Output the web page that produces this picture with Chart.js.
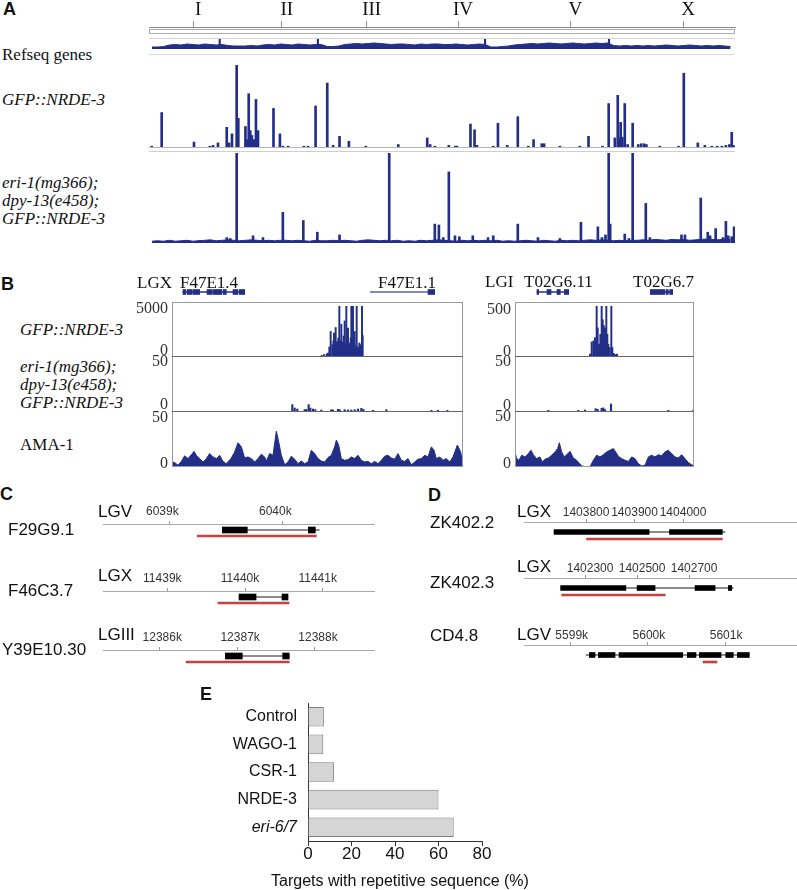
<!DOCTYPE html>
<html>
<head>
<meta charset="utf-8">
<script src="https://cdn.jsdelivr.net/npm/chart.js@4.4.1/dist/chart.umd.min.js"></script>
<style>
html, body { margin: 0; padding: 0; background: #fff; }
#fig { position: relative; width: 797px; height: 890px; overflow: hidden; }
#fig canvas { position: absolute; }
.t { position: absolute; white-space: nowrap; color: #111; }
.ln { position: absolute; box-sizing: border-box; }
</style>
</head>
<body>
<div id="fig"></div>
<script>
// ---- A: genome-wide view (positions in Mb along the concatenated genome)
const chromNames = ['I', 'II', 'III', 'IV', 'V', 'X'];
const chromLengthsMb = [15.07, 15.28, 13.78, 17.49, 20.92, 17.72];

// gene density per 1 Mb bin
const refseqDensity = [
  2, 2, 2.5, 4, 4.5, 4, 5, 4.5, 4, 5, 4.5, 4, 4.5, 3.5, 3,
  3, 3, 3.5, 3, 4, 4.5, 4, 5, 4.5, 4, 5, 4.5, 4, 4.5, 4.5,
  2.5, 2.5, 3, 4.5, 5, 5.5, 5, 5.5, 6, 5.5, 5, 4.5, 5, 5,
  4.5, 4, 5, 4.5, 5, 5, 4.5, 4.5, 5, 4.5, 4, 4.5, 5, 4.5, 2, 2, 2.5, 3,
  4, 4.5, 5, 5.5, 5, 5.5, 6, 5.5, 5, 5.5, 6, 5.5, 5, 5.5, 6, 5.5, 6, 3.5, 3, 3.5, 3,
  3.5, 3, 3.5, 3, 3.5, 4, 3.5, 3, 3.5, 4, 3.5, 3, 3.5, 3, 3.5, 3, 2.5
];
const refseqPeaks = [[12.1, 10], [28.9, 10], [57.5, 10], [78.7, 10]];

// [Mb, relative signal %]
const nrde3Peaks = [
  [0.46, 1], [2.17, 42], [7.7, 6], [10.4, 1], [10.95, 2], [11.8, 5], [13.3, 24], [13.7, 5], [14.2, 16],
  [15.0, 100], [15.28, 35], [16.5, 25], [16.8, 9], [17.06, 65], [17.33, 20], [17.6, 14], [17.96, 9],
  [18.3, 58], [18.65, 20], [21.3, 47], [22.4, 16], [22.9, 1], [23.8, 1], [26.5, 1], [27.2, 1], [28.5, 50],
  [30.5, 78], [31.5, 2], [32.6, 13], [34.2, 7], [37.1, 1], [42.65, 3], [47.6, 11], [48.1, 3], [48.9, 1],
  [51.3, 2], [52.4, 1], [52.7, 1], [55.0, 28], [55.7, 21], [56.1, 2], [58.9, 1], [59.7, 29], [61.3, 2],
  [63.1, 37], [64.9, 1], [65.8, 9], [67.2, 4], [67.6, 4], [70.3, 1], [73.7, 1], [75.2, 13], [77.6, 1],
  [78.65, 53], [79.7, 11], [80.2, 63], [80.5, 11], [80.7, 30], [80.98, 12], [81.4, 53], [81.9, 3],
  [82.75, 29], [83.7, 3], [84.2, 4], [84.7, 4], [85.1, 3], [87.4, 1], [90.6, 1], [91.5, 90], [93.9, 5],
  [95.1, 2], [96.3, 1], [97.2, 1], [98.0, 1], [98.7, 2], [99.3, 3], [99.7, 18], [100.0, 2]
];
const eriBackground = [
  2, 2.5, 2, 3, 2, 2.5, 3, 2, 2.5, 3, 3.5, 2.5, 3, 3.5, 3,
  2.5, 3, 3.5, 3, 2.5, 3, 2.5, 3, 3, 2.5, 3, 2.5, 2, 3, 2.5,
  2.5, 3, 2.5, 3, 2.5, 2, 3, 3.5, 3, 2.5, 3, 2.5, 3, 2,
  2.5, 2, 3, 2.5, 3, 3.5, 3, 2.5, 2, 3, 2.5, 3, 2.5, 3, 2.5, 3, 2, 2.5,
  2, 2.5, 3, 2.5, 2, 3, 2.5, 2, 3, 2.5, 3, 2.5, 3, 3.5, 3, 3.5, 3, 2.5, 3, 2.5, 3,
  3, 3.5, 3, 4, 3.5, 3, 4, 3.5, 4, 3, 3.5, 4, 4.5, 4, 3.5, 4.5, 4
];
const eriPeaks = [
  [8.7, 3], [13.3, 6], [13.9, 5], [15.0, 100], [17.8, 8], [19.5, 6], [22.9, 34], [26.4, 25], [28.8, 12],
  [32.6, 9], [41.1, 100], [48.9, 21], [49.6, 20], [50.35, 6], [51.3, 79], [52.35, 8], [53.1, 7], [55.4, 8],
  [58.0, 6], [58.9, 8], [63.1, 21], [66.55, 6], [70.3, 5], [73.9, 23], [76.8, 18], [77.5, 6], [78.1, 9],
  [78.65, 100], [78.9, 21], [81.4, 10], [82.1, 5], [82.75, 100], [85.0, 44], [85.7, 6], [91.1, 9], [91.7, 9],
  [94.4, 50], [95.6, 12], [96.0, 8], [96.95, 16], [98.2, 6], [98.7, 24], [99.1, 8], [99.7, 7], [100.1, 18]
];

// ---- B: browser windows (position = offset inside window, reads)
const f47Gfp = [
  [449, 60], [456, 130], [464, 200], [468, 300], [472, 900], [476, 2450], [481, 1130], [484, 1500],
  [486, 2290], [489, 1000], [491, 2850], [494, 1300], [496, 1460], [499, 1800], [502, 5000], [505, 1500],
  [508, 3180], [511, 1400], [513, 1130], [515, 2000], [518, 3510], [521, 1200], [523, 5000], [526, 1400],
  [528, 2780], [531, 1300], [533, 1130], [536, 1800], [538, 5000], [541, 1600], [543, 5000], [546, 1300],
  [548, 2450], [551, 1000], [554, 5000], [557, 900], [560, 800], [562, 1300], [565, 1130], [568, 900],
  [570, 5000], [572, 2050]
];
const f47Eri = [
  [361, 5.8], [368, 2.7], [376, 1.8], [398, 1.2], [403, 1.5], [410, 5.8], [415, 2.7], [423, 1.8], [430, 1.2],
  [448, 0.9], [478, 1.2], [483, 0.9], [498, 1.5], [503, 1.2], [518, 1.2], [528, 0.9], [538, 0.9], [548, 1.2],
  [558, 1.8], [568, 2.4], [574, 1.5], [603, 0.6], [643, 1.2], [778, 0.6], [798, 0.6], [826, 0.6]
];
const f47Ama1 = [
  [0, 4.5], [8, 4], [18, 1.5], [28, 5], [38, 10], [48, 7.5], [58, 11], [66, 14], [73, 10.5], [83, 7.5],
  [93, 4.5], [103, 7.5], [113, 12], [123, 9], [133, 7.5], [143, 10.5], [153, 5], [163, 3], [178, 8],
  [188, 13.5], [198, 21.7], [208, 18], [218, 8], [228, 9], [238, 7.5], [248, 4.5], [258, 7.5], [268, 11.4],
  [278, 9], [283, 5.4], [293, 12], [303, 10.5], [313, 32], [320, 22.6], [328, 10.5], [338, 2], [348, 4.5],
  [358, 9.6], [368, 7], [378, 3], [388, 5.4], [398, 3], [408, 4.5], [418, 15], [428, 12], [438, 7.5],
  [448, 5.4], [458, 4.5], [468, 8.4], [478, 10.5], [488, 18], [493, 24], [500, 19.6], [508, 7.5], [518, 6],
  [528, 6.6], [538, 9], [548, 7.5], [558, 10.5], [568, 6], [578, 4.5], [588, 5], [598, 3], [608, 5],
  [618, 3], [628, 6], [638, 9.6], [648, 10.5], [658, 8], [668, 7], [678, 12], [688, 6], [698, 5],
  [708, 7.5], [718, 2], [728, 4.5], [738, 7], [748, 7.5], [758, 10.5], [768, 9], [778, 18], [786, 15],
  [793, 7.5], [803, 9], [813, 6], [823, 7.5], [833, 4.5], [843, 9], [856, 19.6], [866, 13.5], [873, 1.5]
];
const t02Gfp = [
  [225, 20], [230, 140], [235, 150], [240, 183], [245, 500], [248, 281], [252, 118], [256, 216], [260, 500],
  [263, 363], [266, 307], [270, 281], [274, 500], [277, 216], [280, 118], [284, 85], [289, 500], [292, 85],
  [296, 26], [300, 13], [306, 20]
];
const t02Eri = [
  [100, 0.6], [190, 0.6], [210, 0.9], [242, 2.1], [248, 1.5], [260, 2.5], [265, 2.8], [270, 1.2], [288, 6.4],
  [460, 0.6], [535, 0.9]
];
const t02Ama1 = [
  [0, 13.5], [5, 7.5], [12, 6], [20, 10.5], [30, 9], [40, 12], [48, 15], [55, 11], [65, 7.5], [75, 9],
  [82, 4.5], [90, 7], [100, 8], [110, 10.5], [120, 13.5], [128, 16.5], [133, 21.7], [140, 13.5], [148, 9],
  [155, 11], [165, 14], [175, 8], [185, 6], [192, 3.6], [200, 1], [210, 0.3], [225, 0.3], [235, 6],
  [245, 10.5], [255, 9], [265, 11], [275, 13.5], [285, 15], [295, 16.5], [302, 13.5], [310, 9.6], [320, 7.5],
  [330, 6], [340, 5], [350, 9], [360, 7.5], [370, 3], [380, 1], [390, 1.5], [400, 9], [410, 10.5], [420, 9],
  [430, 11], [440, 10], [450, 13.5], [460, 15], [470, 12], [480, 9], [490, 8], [500, 11], [510, 7.5],
  [520, 4], [530, 2], [537, 1]
];
const f47e1_4Span = [[33, 218]];
const f47e1_4Exons = [[33, 41], [45, 59], [62, 83], [105, 119], [122, 149], [153, 163], [183, 197], [201, 218]];
const f47e1_1Span = [[595, 788]];
const f47e1_1Exons = [[768, 788]];
const t02g6_11Span = [[66, 161]];
const t02g6_11Exons = [[66, 71], [96, 108], [126, 136], [148, 161]];
const t02g6_7Span = [[406, 473]];
const t02g6_7Exons = [[406, 449], [453, 460], [464, 473]];

// ---- C: gene models, kb
const f29g9Window = [6038.413, 6040.820];
const f29g9Ticks = [6039, 6040];
const f29g9Exons = [[6039.469, 6039.690], [6040.230, 6040.292]];
const f29g9Span = [[6039.469, 6040.327]];
const f29g9Repeat = [[6039.248, 6040.301]];

const f46c3Window = [11438.172, 11441.673];
const f46c3Ticks = [11439, 11440, 11441];
const f46c3Exons = [[11439.923, 11440.142], [11440.476, 11440.553]];
const f46c3Span = [[11439.923, 11440.553]];
const f46c3Repeat = [[11439.652, 11440.566]];

const y39e10Window = [12385.277, 12388.771];
const y39e10Ticks = [12386, 12387, 12388];
const y39e10Exons = [[12386.848, 12387.066], [12387.585, 12387.670]];
const y39e10Span = [[12386.848, 12387.670]];
const y39e10Repeat = [[12386.345, 12387.670]];

// ---- D: gene models (bp / kb)
const zk402_2Window = [1403672, 1404235];
const zk402_2Ticks = [1403800, 1403900, 1404000];
const zk402_2Exons = [[1403734, 1403930], [1403972, 1404081]];
const zk402_2Span = [[1403734, 1404087]];
const zk402_2Repeat = [[1403801, 1404081]];

const zk402_3Window = [1402065, 1403115];
const zk402_3Ticks = [1402300, 1402500, 1402700];
const zk402_3Exons = [[1402206, 1402457], [1402500, 1402569], [1402723, 1402800], [1402851, 1402864]];
const zk402_3Span = [[1402206, 1402870]];
const zk402_3Repeat = [[1402210, 1402608]];

const cd4_8Window = [5598.395, 5601.931];
const cd4_8Ticks = [5599, 5600, 5601];
const cd4_8Exons = [[5599.241, 5599.315], [5599.358, 5599.574], [5599.626, 5600.451], [5600.510, 5600.623],
  [5600.666, 5600.947], [5601.008, 5601.106], [5601.158, 5601.313]];
const cd4_8Span = [[5599.198, 5601.313]];
const cd4_8Repeat = [[5600.713, 5600.894]];

// ---- E
const eCategories = ['Control', 'WAGO-1', 'CSR-1', 'NRDE-3', 'eri-6/7'];
const ePercent = [7.3, 7, 12, 60, 67];

const SERIF = '"Liberation Serif", "Times New Roman", serif';
const SANS = '"Liberation Sans", Arial, sans-serif';
const NAVY = '#232f87';
const RED = '#c8403f';

const fig = document.getElementById('fig');

function canvasAt(left, top, width, height) {
  const c = document.createElement('canvas');
  c.width = width;
  c.height = height;
  Object.assign(c.style, { left: left + 'px', top: top + 'px', width: width + 'px', height: height + 'px' });
  fig.appendChild(c);
  return c;
}

function rule(x, y, w, h, css) {
  const d = document.createElement('div');
  d.className = 'ln';
  Object.assign(d.style, { left: x + 'px', top: y + 'px', width: w + 'px', height: h + 'px' }, css);
  fig.appendChild(d);
}

function text(str, x, y, size, family, o = {}) {
  const d = document.createElement('div');
  d.className = 't';
  d.textContent = str;
  const lh = Math.round(size * 1.2);
  Object.assign(d.style, {
    left: x + 'px', top: (y - lh / 2) + 'px', fontSize: size + 'px', lineHeight: lh + 'px',
    fontFamily: family, fontStyle: o.italic ? 'italic' : 'normal', fontWeight: o.bold ? 'bold' : 'normal',
    color: o.color || '#111'
  });
  if (o.right) d.style.transform = 'translateX(-100%)';
  fig.appendChild(d);
}

const baseOptions = () => ({
  responsive: false,
  animation: false,
  events: [],
  devicePixelRatio: 1,
  layout: { padding: 0 },
  plugins: { legend: { display: false }, tooltip: { enabled: false } }
});

function trackChart(left, top, width, height, xMax, yMax, datasets) {
  return new Chart(canvasAt(left, top, width, height), {
    type: 'bar',
    data: { datasets },
    options: Object.assign(baseOptions(), {
      scales: {
        x: { type: 'linear', display: false, min: 0, max: xMax, offset: false },
        y: { type: 'linear', display: false, min: 0, max: yMax }
      }
    })
  });
}

const spikes = (pairs, thick) => ({
  type: 'bar', data: pairs.map(([x, y]) => ({ x, y })),
  backgroundColor: NAVY, barThickness: thick, grouped: false
});
const area = (pairs) => ({
  type: 'line', data: pairs.map(([x, y]) => ({ x, y })),
  borderColor: NAVY, backgroundColor: NAVY, borderWidth: 1, pointRadius: 0, fill: 'origin', tension: 0
});
const bins = (values) => values.map((v, i) => [i + 0.5, v]);

function featureChart(left, top, width, height, win, axis, datasets) {
  const scales = {
    x: { type: 'linear', position: 'top', min: win[0], max: win[1], offset: false, display: !!axis },
    y: { type: 'linear', display: false, min: 0, max: axis ? height - 24 : height, reverse: true, offset: false }
  };
  if (axis) {
    Object.assign(scales.x, {
      afterBuildTicks: s => { s.ticks = axis.ticks.map(v => ({ value: v })); },
      afterFit: s => { s.height = 24; },
      ticks: {
        callback: axis.format, autoSkip: false, maxRotation: 0, padding: axis.pad, color: '#333',
        labelOffset: axis.shift, font: { family: SANS, size: 12, lineHeight: 1 }
      },
      grid: { drawOnChartArea: false, tickLength: 3, color: '#999' },
      border: { color: '#aaa' }
    });
  }
  return new Chart(canvasAt(left, top, width, height), {
    type: 'bar',
    data: { datasets },
    options: Object.assign(baseOptions(), { indexAxis: 'y', scales })
  });
}

const segs = (ranges, row, thick, color) => ({
  data: ranges.map(([a, b]) => ({ x: [a, b], y: row })),
  backgroundColor: color, barThickness: thick, grouped: false, borderSkipped: false
});

// ---------- A
const chromEdges = chromLengthsMb.reduce((acc, len) => { acc.push(acc[acc.length - 1] + len); return acc; }, [0]);
const genomeMb = chromEdges[chromEdges.length - 1];
const chromMids = chromNames.map((_, i) => (chromEdges[i] + chromEdges[i + 1]) / 2);

new Chart(canvasAt(140, 0, 605, 34), {
  type: 'bar',
  data: { datasets: [] },
  options: Object.assign(baseOptions(), {
    layout: { padding: { left: 9, right: 10, top: 0, bottom: 0 } },
    scales: {
      x: {
        type: 'linear', position: 'top', min: 0, max: genomeMb, offset: false, weight: 0,
        afterBuildTicks: s => { s.ticks = chromEdges.map(v => ({ value: v })); },
        afterFit: s => { s.height = 6; },
        ticks: { display: false },
        grid: { drawOnChartArea: false, tickLength: 6, color: '#8a8a8a' },
        border: { color: '#8a8a8a' }
      },
      x2: {
        type: 'linear', position: 'top', min: 0, max: genomeMb, offset: false, weight: 1,
        afterBuildTicks: s => { s.ticks = chromMids.map(v => ({ value: v })); },
        afterFit: s => { s.height = 21; },
        ticks: {
          callback: (v, i) => chromNames[i], autoSkip: false, maxRotation: 0, padding: 1.5, color: '#111',
          labelOffset: 5, font: { family: SERIF, size: 19, lineHeight: 1 }
        },
        grid: { display: false, drawTicks: false },
        border: { display: false }
      },
      y: { display: false, min: 0, max: 1 }
    }
  })
});

trackChart(149, 39, 586, 10, genomeMb, 10, [spikes(refseqPeaks, 1.5), area(bins(refseqDensity))]);
trackChart(149, 65, 586, 82, genomeMb, 100, [spikes(nrde3Peaks, 2)]);
trackChart(149, 153, 586, 90, genomeMb, 100, [spikes(eriPeaks, 2), area(bins(eriBackground))]);

rule(149, 29, 586, 5, { border: '1px solid #aaa' });
rule(149, 38, 586, 1, { background: '#d4d4d4' });
rule(149, 54, 586, 1, { background: '#dadada' });
rule(149, 147, 586, 1, { background: '#b5b5b5' });
rule(149, 151, 586, 1, { background: '#cfcfcf' });

text('A', 3, 9, 18, SANS, { bold: true });
text('Refseq genes', 2, 55, 17, SERIF);
text('GFP::NRDE-3', 2, 100, 17, SERIF, { italic: true });
text('eri-1(mg366);', 2, 183, 17, SERIF, { italic: true });
text('dpy-13(e458);', 2, 201, 17, SERIF, { italic: true });
text('GFP::NRDE-3', 2, 219, 17, SERIF, { italic: true });

// ---------- B
trackChart(172, 306, 291, 50, 873, 5000, [spikes(f47Gfp, 1.3)]);
trackChart(172, 356, 291, 55, 873, 50, [spikes(f47Eri, 1.5)]);
trackChart(172, 411, 291, 56, 873, 50, [area(f47Ama1)]);
trackChart(515, 306, 179, 50, 537, 500, [spikes(t02Gfp, 1.3)]);
trackChart(515, 356, 179, 55, 537, 50, [spikes(t02Eri, 1.5)]);
trackChart(515, 411, 179, 56, 537, 50, [area(t02Ama1)]);

featureChart(172, 286, 291, 12, [0, 873], null, [
  segs(f47e1_4Exons, 6, 5, NAVY), segs(f47e1_1Exons, 6, 5, NAVY),
  segs(f47e1_4Span, 6, 1, NAVY), segs(f47e1_1Span, 6, 1, '#5a64a8')
]);
featureChart(515, 286, 179, 12, [0, 537], null, [
  segs(t02g6_11Exons, 6, 5, NAVY), segs(t02g6_7Exons, 6, 5, NAVY),
  segs(t02g6_11Span, 6, 1, NAVY), segs(t02g6_7Span, 6, 1, NAVY)
]);

[[172, 291], [515, 179]].forEach(([x, w]) => {
  rule(x, 302, w, 165, { border: '1px solid #9a9a9a' });
  rule(x, 356, w, 1, { background: '#666' });
  rule(x, 411, w, 1, { background: '#666' });
});

text('B', 1, 284, 18, SANS, { bold: true });
text('LGX', 137, 283, 17, SERIF);
text('F47E1.4', 180, 283, 17, SERIF);
text('F47E1.1', 378, 283, 17, SERIF);
text('LGI', 485, 282, 17, SERIF);
text('T02G6.11', 524, 282, 17, SERIF);
text('T02G6.7', 633, 282, 17, SERIF);
[['5000', 307], ['0', 349], ['50', 360], ['0', 403], ['50', 416], ['0', 462]].forEach(([s, y]) =>
  text(s, 168, y, 16, SERIF, { right: true, color: '#333' }));
[['500', 308], ['0', 350], ['50', 360], ['0', 404], ['50', 415], ['0', 462]].forEach(([s, y]) =>
  text(s, 511, y, 16, SERIF, { right: true, color: '#333' }));
text('GFP::NRDE-3', 20, 330, 17, SERIF, { italic: true });
text('eri-1(mg366);', 20, 367, 17, SERIF, { italic: true });
text('dpy-13(e458);', 20, 385, 17, SERIF, { italic: true });
text('GFP::NRDE-3', 20, 403, 17, SERIF, { italic: true });
text('AMA-1', 20, 445, 17, SERIF);

// ---------- C
const kb = v => v + 'k';
const bp = v => String(v);
[
  [f29g9Window, f29g9Ticks, f29g9Exons, f29g9Span, f29g9Repeat, 524, -7],
  [f46c3Window, f46c3Ticks, f46c3Exons, f46c3Span, f46c3Repeat, 591, -5],
  [y39e10Window, y39e10Ticks, y39e10Exons, y39e10Span, y39e10Repeat, 650, 3]
].forEach(([win, ticks, exons, span, rep, axisY, shift]) => {
  featureChart(103, axisY - 24, 272, 48, win, { ticks, format: kb, pad: 3, shift }, [
    segs(exons, 6, 6, '#000'), segs(span, 6, 1, '#666'), segs(rep, 12, 2, RED)
  ]);
});
text('C', 0, 494, 18, SANS, { bold: true });
text('F29G9.1', 8, 530, 17, SANS);
text('F46C3.7', 8, 591, 17, SANS);
text('Y39E10.30', 2, 650, 17, SANS);
text('LGV', 98, 512, 17, SANS);
text('LGX', 98, 576, 17, SANS);
text('LGIII', 98, 635, 17, SANS);

// ---------- D
[
  [zk402_2Window, zk402_2Ticks, bp, zk402_2Exons, zk402_2Span, zk402_2Repeat, 522, 0],
  [zk402_3Window, zk402_3Ticks, bp, zk402_3Exons, zk402_3Span, zk402_3Repeat, 578, 5],
  [cd4_8Window, cd4_8Ticks, kb, cd4_8Exons, cd4_8Span, cd4_8Repeat, 645, 1]
].forEach(([win, ticks, format, exons, span, rep, axisY, shift]) => {
  featureChart(524, axisY - 24, 273, 48, win, { ticks, format, pad: 0, shift }, [
    segs(exons, 10, 5, '#000'), segs(span, 10, 1, '#666'), segs(rep, 17, 2, RED)
  ]);
});
text('D', 428, 495, 18, SANS, { bold: true });
text('ZK402.2', 430, 523, 17, SANS);
text('ZK402.3', 430, 583, 17, SANS);
text('CD4.8', 430, 636, 17, SANS);
text('LGX', 517, 512, 17, SANS);
text('LGX', 517, 567, 17, SANS);
text('LGV', 517, 635, 17, SANS);

// ---------- E
new Chart(canvasAt(200, 684, 320, 206), {
  type: 'bar',
  data: {
    labels: eCategories,
    datasets: [{
      data: ePercent, backgroundColor: '#d5d5d5', borderColor: '#7d7d7d', borderWidth: 1,
      barPercentage: 0.71, categoryPercentage: 1
    }]
  },
  options: Object.assign(baseOptions(), {
    indexAxis: 'y',
    layout: { padding: { top: 13, right: 38, left: 0, bottom: 0 } },
    scales: {
      x: {
        min: 0, max: 80,
        ticks: { stepSize: 20, padding: 0, color: '#111', font: { family: SANS, size: 17, lineHeight: 1 } },
        grid: { drawOnChartArea: false, tickLength: 5, color: '#333' },
        border: { color: '#333' },
        afterFit: s => { s.height = 49; }
      },
      y: {
        grid: { display: false, drawTicks: false },
        border: { color: '#333' },
        ticks: {
          padding: 11, color: '#111',
          font: ctx => ({ family: SANS, size: 16, lineHeight: 1, style: ctx.index === 4 ? 'italic' : 'normal' })
        },
        afterFit: s => { s.width = 108; }
      }
    }
  })
});
text('E', 200, 694, 18, SANS, { bold: true });
text('Targets with repetitive sequence (%)', 271, 880, 16, SANS);
</script>
</body>
</html>
